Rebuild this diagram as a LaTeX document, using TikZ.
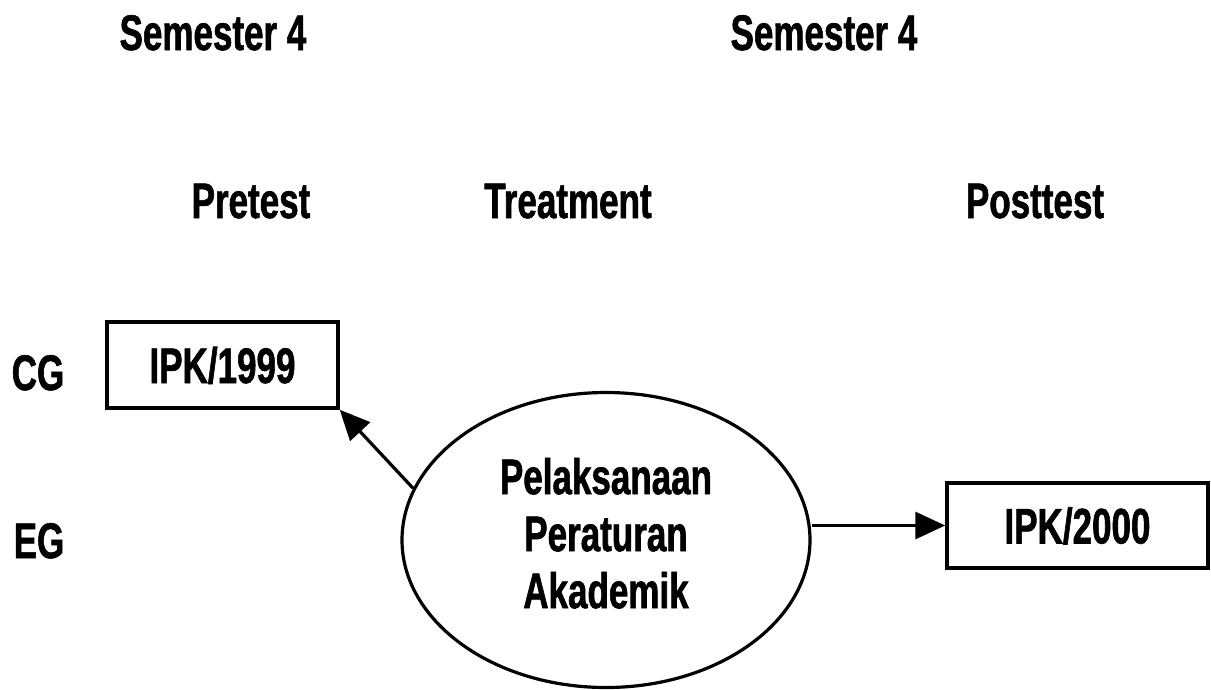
\documentclass[tikz,border=0pt]{standalone}
\usepackage{fontspec}
\setmainfont{Liberation Sans}[FakeStretch=0.7,FakeBold=1.2]
\usetikzlibrary{arrows.meta,shapes.geometric}
\tikzset{
  lbl/.style={font=\fontsize{50}{58}\selectfont\bfseries, inner sep=0pt, anchor=base},
  boxnode/.style={draw, line width=3.5pt, font=\fontsize{50}{58}\selectfont\bfseries, inner sep=0pt, text height=36pt, text depth=0pt},
  ellnode/.style={draw, ellipse, line width=3.2pt, inner sep=0pt, align=center, text depth=14pt, font=\fontsize{50}{57}\selectfont\bfseries},
  arr/.style={line width=3.2pt, -{Triangle[length=30pt,width=27pt]}}
}
\begin{document}
\begin{tikzpicture}[x=1pt,y=-1pt]
\useasboundingbox (0,0) rectangle (1211,689);
\node[lbl] (sem1) at (213,50) {Semester 4};
\node[lbl] (sem2) at (824,50) {Semester 4};
\node[lbl] (pre) at (251,218) {Pretest};
\node[lbl] (tre) at (568,218) {Treatment};
\node[lbl] (post) at (1035,218) {Posttest};
\node[lbl] (cg) at (38,390) {CG};
\node[lbl] (eg) at (39,558) {EG};
\node[boxnode, minimum width=231pt, minimum height=86pt] (box1) at (222.5,365) {IPK/1999};
\node[boxnode, minimum width=261pt, minimum height=85pt] (box2) at (1077.5,525.5) {IPK/2000};
\node[ellnode, minimum width=408pt, minimum height=295pt] (ell) at (606,540) {Pelaksanaan\\Peraturan\\Akademik};
\draw[arr] (ell.165) -- (box1.south east);
\draw[arr] (box2.west -| ell.east) -- (box2.west);
\end{tikzpicture}
\end{document}
